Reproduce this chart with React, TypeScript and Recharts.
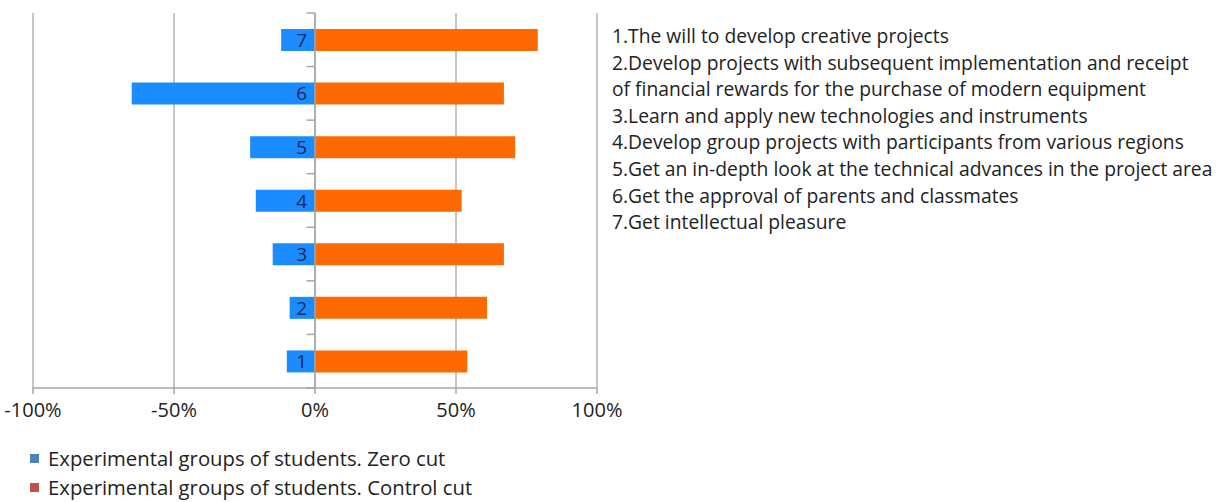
import { Bar, BarChart, CartesianGrid, LabelList, ReferenceLine, XAxis, YAxis } from 'recharts'

const categories = [1, 2, 3, 4, 5, 6, 7]
const zeroCut = [-0.1, -0.09, -0.15, -0.21, -0.23, -0.65, -0.12]
const controlCut = [0.54, 0.61, 0.67, 0.52, 0.71, 0.67, 0.79]
const xTicks = [-1, -0.5, 0, 0.5, 1]

const statements = [
  '1.The will to develop creative projects',
  '2.Develop projects with subsequent implementation and receipt',
  'of financial rewards for the purchase of modern equipment',
  '3.Learn and apply new technologies and instruments',
  '4.Develop group projects with participants from various regions',
  '5.Get an in-depth look at the technical advances in the project area',
  '6.Get the approval of parents and classmates',
  '7.Get intellectual pleasure',
]

const legendItems = [
  { name: 'Experimental groups of students. Zero cut', color: '#4F81BD' },
  { name: 'Experimental groups of students. Control cut', color: '#C0504D' },
]

const data = categories.map((c, i) => ({ cat: c, zero: zeroCut[i], control: controlCut[i] }))
const boundaries = [0.5, ...categories.map((c) => c + 0.5)]

const FONT = '"Open Sans", sans-serif'

function CatLabel(props: any) {
  const { x, y, width, height, value } = props
  const right = Math.max(Number(x), Number(x) + Number(width))
  return (
    <text x={right - 8} y={Number(y) + Number(height) / 2} dy="0.36em" textAnchor="end" fill="#1b2a55" fontSize={19} fontFamily={FONT}>
      {value}
    </text>
  )
}

export default function App() {
  return (
    <div style={{ position: 'absolute', left: 0, top: 0, width: 1227, height: 502, background: '#fff', fontFamily: FONT }}>
      <div style={{ position: 'absolute', left: 0, top: 0 }}>
        <BarChart
          width={640}
          height={430}
          data={data}
          layout="vertical"
          stackOffset="sign"
          margin={{ top: 13, right: 43, left: 33, bottom: 12 }}
        >
          <CartesianGrid horizontal={false} stroke="#b3b3b3" strokeWidth={1.5} />
          <XAxis
            type="number"
            domain={[-1, 1]}
            ticks={xTicks}
            tickFormatter={(v) => `${Math.round(Number(v) * 100)}%`}
            height={30}
            stroke="#a6a6a6"
            strokeWidth={1.5}
            tickSize={6}
            tickMargin={9}
            tick={{ fill: '#222', fontSize: 20, fontFamily: FONT }}
          />
          <YAxis type="number" dataKey="cat" domain={[0.5, 7.5]} reversed hide />
          {boundaries.map((b) => (
            <ReferenceLine
              key={b}
              segment={[
                { x: -0.03, y: b },
                { x: 0, y: b },
              ]}
              stroke="#a6a6a6"
              strokeWidth={1.5}
            />
          ))}
          <Bar dataKey="zero" stackId="a" fill="#1A8CFF" barSize={22} isAnimationActive={false}>
            <LabelList dataKey="cat" content={CatLabel} />
          </Bar>
          <Bar dataKey="control" stackId="a" fill="#FF6A00" barSize={22} isAnimationActive={false} />
          <ReferenceLine x={0} stroke="#a6a6a6" strokeWidth={1.5} />
        </BarChart>
      </div>
      <div style={{ position: 'absolute', left: 612, top: 23, fontSize: 19.3, lineHeight: '26.6px', color: '#222' }}>
        {statements.map((s) => (
          <div key={s} style={{ whiteSpace: 'nowrap' }}>
            {s}
          </div>
        ))}
      </div>
      <div style={{ position: 'absolute', left: 30, top: 444, fontSize: 20.3, lineHeight: '29px', color: '#222' }}>
        {legendItems.map((l) => (
          <div key={l.name} style={{ display: 'flex', alignItems: 'center', whiteSpace: 'nowrap' }}>
            <span style={{ width: 9, height: 9, background: l.color, display: 'inline-block', marginRight: 9 }} />
            {l.name}
          </div>
        ))}
      </div>
    </div>
  )
}
